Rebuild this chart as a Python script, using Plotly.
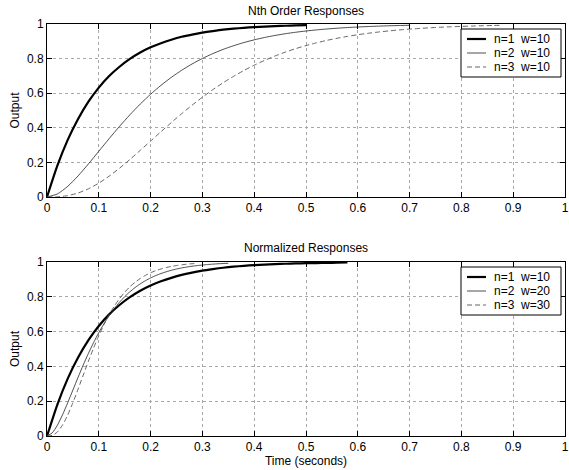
import plotly.graph_objects as go
from plotly.subplots import make_subplots

# Time grids (seconds)
t_step02 = [round(0.02 * i, 2) for i in range(46)]
t_step01 = [round(0.01 * i, 2) for i in range(46)]

# Top panel: Nth order responses, w=10
n1_w10 = [0, 0.181, 0.330, 0.451, 0.551, 0.632, 0.699, 0.753, 0.798, 0.835,
          0.865, 0.889, 0.909, 0.926, 0.939, 0.950, 0.959, 0.967, 0.973, 0.978,
          0.982, 0.985, 0.988, 0.990, 0.992, 0.993]
n2_w10 = [0, 0.0175, 0.0615, 0.1219, 0.1912, 0.2642, 0.3374, 0.4082, 0.4751, 0.5372,
          0.5940, 0.6454, 0.6916, 0.7326, 0.7689, 0.8008, 0.8288, 0.8532, 0.8743, 0.8926,
          0.9084, 0.9220, 0.9337, 0.9437, 0.9523, 0.9596, 0.9658, 0.9711, 0.9756, 0.9794,
          0.9826, 0.9854, 0.9877, 0.9897, 0.9913, 0.9927]
n3_w10 = [0, 0.0011, 0.0079, 0.0231, 0.0474, 0.0803, 0.1205, 0.1665, 0.2166, 0.2694,
          0.3233, 0.3773, 0.4303, 0.4816, 0.5305, 0.5768, 0.6201, 0.6603, 0.6973, 0.7311,
          0.7618, 0.7897, 0.8148, 0.8374, 0.8575, 0.8753, 0.8911, 0.9052, 0.9176, 0.9284,
          0.9380, 0.9464, 0.9537, 0.9600, 0.9657, 0.9704, 0.9744, 0.9782, 0.9813, 0.9839,
          0.9862, 0.9882, 0.9900, 0.9914, 0.9927]

# Bottom panel: normalized responses
norm_n1_w10 = [0, 0.181, 0.330, 0.451, 0.551, 0.632, 0.699, 0.753, 0.798, 0.835,
               0.865, 0.889, 0.909, 0.926, 0.939, 0.950, 0.959, 0.967, 0.973, 0.978,
               0.982, 0.985, 0.988, 0.990, 0.992, 0.993, 0.994, 0.995, 0.996, 0.997]
norm_n2_w20 = [0, 0.0175, 0.0615, 0.1219, 0.1912, 0.2642, 0.3374, 0.4082, 0.4751, 0.5372,
               0.5940, 0.6454, 0.6916, 0.7326, 0.7689, 0.8008, 0.8288, 0.8532, 0.8743, 0.8926,
               0.9084, 0.9220, 0.9337, 0.9437, 0.9523, 0.9596, 0.9658, 0.9711, 0.9756, 0.9794,
               0.9826, 0.9854, 0.9877, 0.9897, 0.9913, 0.9927]
norm_n3_w30 = [0, 0.0036, 0.0231, 0.0629, 0.1205, 0.1912, 0.2694, 0.3504, 0.4303, 0.5063,
               0.5768, 0.6406, 0.6973, 0.7469, 0.7897, 0.8264, 0.8575, 0.8835, 0.9052, 0.9232,
               0.9380, 0.9502, 0.9600, 0.9680, 0.9744, 0.9797, 0.9839, 0.9873, 0.9900, 0.9921]

top_names = ["n=1  w=10", "n=2  w=10", "n=3  w=10"]
bottom_names = ["n=1  w=10", "n=2  w=20", "n=3  w=30"]
x_ticks = [0, 0.1, 0.2, 0.3, 0.4, 0.5, 0.6, 0.7, 0.8, 0.9, 1]
y_ticks = [0, 0.2, 0.4, 0.6, 0.8, 1]

FONT = "Liberation Sans, Arial, sans-serif"
FS = 12
W, H = 569, 470
ML, MR, MT, MB = 47, 4, 24, 34
PW, PH = W - ML - MR, H - MT - MB


def px_x(px):
    return (px - ML) / PW


def px_y(py):
    return (H - MB - py) / PH


fig = make_subplots(rows=2, cols=1)

styles = [dict(color="black", width=2.2),
          dict(color="#222222", width=0.8),
          dict(color="#555555", width=0.9, dash="5px,3px")]

top_series = [(t_step02, n1_w10), (t_step02, n2_w10), (t_step02, n3_w10)]
bot_series = [(t_step02, norm_n1_w10), (t_step01, norm_n2_w20), (t_step01, norm_n3_w30)]

for (tx, ty), name, st in zip(top_series, top_names, styles):
    fig.add_trace(go.Scatter(x=tx[:len(ty)], y=ty, mode="lines", name=name,
                             line=dict(shape="spline", smoothing=0.6, **st),
                             showlegend=False), row=1, col=1)
for (tx, ty), name, st in zip(bot_series, bottom_names, styles):
    fig.add_trace(go.Scatter(x=tx[:len(ty)], y=ty, mode="lines", name=name,
                             line=dict(shape="spline", smoothing=0.6, **st),
                             showlegend=False), row=2, col=1)

axis_common = dict(showline=True, linecolor="black", linewidth=1, mirror="ticks",
                   ticks="inside", ticklen=5, tickcolor="black",
                   showgrid=True, gridcolor="#a8a8a8", griddash="dot", gridwidth=1,
                   zeroline=False, ticklabeloverflow="allow",
                   tickfont=dict(family=FONT, size=FS, color="black"))

fig.update_xaxes(range=[0, 1], tickvals=x_ticks, **axis_common)
fig.update_yaxes(range=[0, 1], tickvals=y_ticks, **axis_common)
for r in (1, 2):
    fig.update_yaxes(title=dict(text="Output", font=dict(family=FONT, size=FS, color="black"),
                                standoff=4), row=r, col=1)
fig.update_xaxes(title=dict(text="Time (seconds)", font=dict(family=FONT, size=FS, color="black"),
                            standoff=2), row=2, col=1)

shapes = []
annotations = [
    dict(text="Nth Order Responses", x=0.5, y=px_y(11), xref="paper", yref="paper",
         showarrow=False, font=dict(family=FONT, size=FS), xanchor="center", yanchor="middle"),
    dict(text="Normalized Responses", x=0.5, y=px_y(248), xref="paper", yref="paper",
         showarrow=False, font=dict(family=FONT, size=FS), xanchor="center", yanchor="middle"),
]

# Legend boxes drawn as shapes + text
for names, box_top in ((top_names, 29), (bottom_names, 267)):
    box_bottom = box_top + 48
    shapes.append(dict(type="rect", xref="paper", yref="paper",
                       x0=px_x(461), x1=px_x(561), y0=px_y(box_bottom), y1=px_y(box_top),
                       line=dict(color="black", width=1), fillcolor="white", layer="above"))
    for i, (name, st) in enumerate(zip(names, styles)):
        row_y = box_top + 10 + 14 * i
        ln = dict(color=st["color"], width=st["width"])
        if "dash" in st:
            ln["dash"] = st["dash"]
        shapes.append(dict(type="line", xref="paper", yref="paper",
                           x0=px_x(467), x1=px_x(486), y0=px_y(row_y), y1=px_y(row_y),
                           line=ln, layer="above"))
        annotations.append(dict(text=name.replace("  ", "&nbsp;&nbsp;"), x=px_x(492), y=px_y(row_y),
                                xref="paper", yref="paper", showarrow=False,
                                xanchor="left", yanchor="middle",
                                font=dict(family=FONT, size=FS, color="black")))

fig.update_layout(
    width=W, height=H,
    margin=dict(l=ML, r=MR, t=MT, b=MB, autoexpand=False),
    paper_bgcolor="white", plot_bgcolor="white",
    font=dict(family=FONT, size=FS, color="black"),
    yaxis=dict(domain=[px_y(197), 1.0]),
    yaxis2=dict(domain=[0.0, px_y(262)]),
    showlegend=False,
    shapes=shapes,
    annotations=annotations,
)

fig.write_html("out.html", config={"displayModeBar": False},
               post_script="document.body.style.margin='0';")
